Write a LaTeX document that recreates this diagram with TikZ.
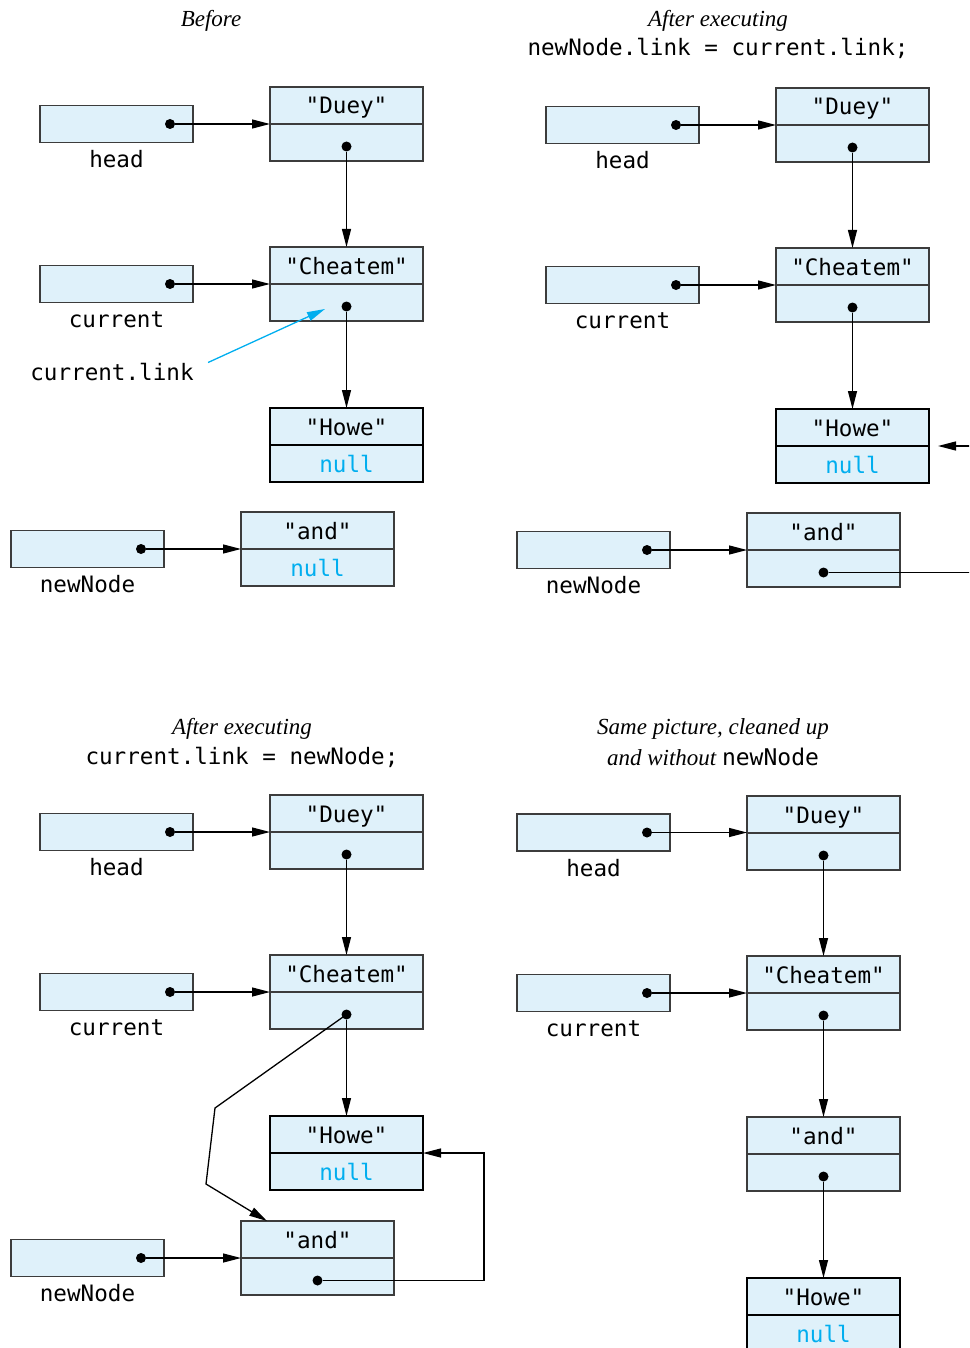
\documentclass[tikz,border=0pt]{standalone}
\usepackage{fontspec}
\setmainfont{Liberation Serif}
\newfontfamily\codefont{DejaVu Sans Mono}
\usetikzlibrary{arrows.meta,positioning,calc}

\definecolor{cellfill}{RGB}{223,241,250}
\definecolor{nullblue}{RGB}{0,174,239}
\definecolor{edgegray}{RGB}{60,60,60}

\tikzset{
  cell/.style={draw=edgegray,fill=cellfill,line width=0.7pt,minimum width=76.5pt,minimum height=18.5pt,
    inner sep=0pt,outer sep=0pt,font=\codefont\fontsize{11.3}{13}\selectfont,text height=9pt,text depth=0.5pt},
  lastcell/.style={cell,draw=black,line width=1.1pt},
  ptrlabel/.style={font=\codefont\fontsize{11.3}{13}\selectfont,anchor=base,inner sep=0pt},
  ptrdot/.style={circle,fill=black,inner sep=0pt,minimum size=5pt},
  link/.style={-{Triangle[length=9pt,width=4.5pt]},line width=0.65pt},
  caption/.style={font=\itshape\fontsize{11.5}{13}\selectfont},
  codeline/.style={font=\codefont\fontsize{11.3}{13}\selectfont}
}

% list node: data cell with link cell below it
\newcommand{\listnode}[5][cell]{%
  \node[#1] (#2) at (#3) {#4};
  \node[#1,below=0pt of #2] (#2-l) {#5};
}
% reference variable: box, dot and name underneath
\newcommand{\refvar}[3]{%
  \node[cell] (#1) at (#2) {};
  \node[ptrdot] (#1-d) at ([xshift=-11.5pt]#1.east) {};
  \node[ptrlabel] (#1-t) at ([yshift=-12.5pt]#1.south) {#3};
}
\newcommand{\nullv}{\textcolor{nullblue}{null}}

\begin{document}
\begin{tikzpicture}[x=0.5pt,y=-0.5pt]
  \useasboundingbox (0,0) rectangle (969,1348);
  \clip (0,0) rectangle (969,1348);

  % before
  \node[caption] (atitle) at (211,21) {Before};
  \listnode{aduey}{346.5,105.5}{"Duey"}{}
  \listnode{acheat}{346.5,265.5}{"Cheatem"}{}
  \listnode[lastcell]{ahowe}{346.5,426.5}{"Howe"}{\nullv}
  \listnode{aand}{317.5,530.5}{"and"}{\nullv}
  \foreach \nm in {aduey,acheat}{\node[ptrdot] (\nm-d) at ([yshift=-2pt]\nm-l.center) {};}
  \refvar{ahead}{116.5,124}{head}
  \refvar{acur}{116.5,284}{current}
  \refvar{anew}{87.5,549}{newNode}
  \draw[link] (ahead-d) -- (ahead-d -| aduey.west);
  \draw[link] (aduey-d) -- (aduey-d |- acheat.north);
  \draw[link] (acur-d) -- (acur-d -| acheat.west);
  \draw[link] (acheat-d) -- (acheat-d |- ahowe.north);
  \draw[link] (anew-d) -- (anew-d -| aand.west);
  \node[ptrlabel] (alinklab) at (112,380) {current.link};
  \coordinate (alinktip) at (325,309);
  \draw[link,nullblue] ([shift={(7pt,4.5pt)}]alinklab.east) -- (alinktip);

  % after newNode.link = current.link
  \begin{scope}[shift={(506,1)}]
    \node[caption] (btitle) at (212,20) {After executing};
    \node[codeline] (bcode) at (212,47) {newNode.link = current.link;};
    \listnode{bduey}{346.5,105.5}{"Duey"}{}
    \listnode{bcheat}{346.5,265.5}{"Cheatem"}{}
    \listnode[lastcell]{bhowe}{346.5,426.5}{"Howe"}{\nullv}
    \listnode{band}{317.5,530.5}{"and"}{}
    \foreach \nm in {bduey,bcheat,band}{\node[ptrdot] (\nm-d) at ([yshift=-2pt]\nm-l.center) {};}
    \refvar{bhead}{116.5,124}{head}
    \refvar{bcur}{116.5,284}{current}
    \refvar{bnew}{87.5,549}{newNode}
    \draw[link] (bhead-d) -- (bhead-d -| bduey.west);
    \draw[link] (bduey-d) -- (bduey-d |- bcheat.north);
    \draw[link] (bcur-d) -- (bcur-d -| bcheat.west);
    \draw[link] (bcheat-d) -- (bcheat-d |- bhowe.north);
    \draw[link] (bnew-d) -- (bnew-d -| band.west);
    \draw[link,shorten >=4.5pt] (band-d) -| ([xshift=40pt]bhowe.south east) -- (bhowe.south east);
  \end{scope}

  % after current.link = newNode
  \begin{scope}[shift={(0,708)}]
    \node[caption] (ctitle) at (242,21) {After executing};
    \node[codeline] (ccode) at (242,49) {current.link = newNode;};
    \listnode{cduey}{346.5,105.5}{"Duey"}{}
    \listnode{ccheat}{346.5,265.5}{"Cheatem"}{}
    \listnode[lastcell]{chowe}{346.5,426.5}{"Howe"}{\nullv}
    \listnode{cand}{317.5,531.5}{"and"}{}
    \foreach \nm in {cduey,ccheat,cand}{\node[ptrdot] (\nm-d) at ([yshift=-2pt]\nm-l.center) {};}
    \refvar{chead}{116.5,124}{head}
    \refvar{ccur}{116.5,284}{current}
    \refvar{cnew}{87.5,550}{newNode}
    \draw[link] (chead-d) -- (chead-d -| cduey.west);
    \draw[link] (cduey-d) -- (cduey-d |- ccheat.north);
    \draw[link] (ccur-d) -- (ccur-d -| ccheat.west);
    \draw[link] (ccheat-d) -- (ccheat-d |- chowe.north);
    \draw[link] (cnew-d) -- (cnew-d -| cand.west);
    \coordinate (cbendA) at (215,400);
    \coordinate (cbendB) at (206,476);
    \draw[link] (ccheat-d.center) -- (cbendA) -- (cbendB) -- ([xshift=13pt]cand.north west);
    \draw[link] (cand-d) -| ([xshift=30.5pt]chowe.south east) -- (chowe.south east);
  \end{scope}

  % cleaned up
  \begin{scope}[shift={(477,709)}]
    \node[caption] (dtitle) at (236,20) {Same picture, cleaned up};
    \node[caption] (dcode) at (236,48) {and without {\upshape\codefont newNode}};
    \listnode{dduey}{346.5,105.5}{"Duey"}{}
    \listnode{dcheat}{346.5,265.5}{"Cheatem"}{}
    \listnode{dand}{346.5,426.5}{"and"}{}
    \listnode[lastcell]{dhowe}{346.5,587.5}{"Howe"}{\nullv}
    \foreach \nm in {dduey,dcheat,dand}{\node[ptrdot] (\nm-d) at ([yshift=-2pt]\nm-l.center) {};}
    \refvar{dhead}{116.5,123.5}{head}
    \refvar{dcur}{116.5,284}{current}
    \draw[link] (dhead-d) -- (dhead-d -| dduey.west);
    \draw[link] (dduey-d) -- (dduey-d |- dcheat.north);
    \draw[link] (dcur-d) -- (dcur-d -| dcheat.west);
    \draw[link] (dcheat-d) -- (dcheat-d |- dand.north);
    \draw[link] (dand-d) -- (dand-d |- dhowe.north);
  \end{scope}
\end{tikzpicture}
\end{document}
